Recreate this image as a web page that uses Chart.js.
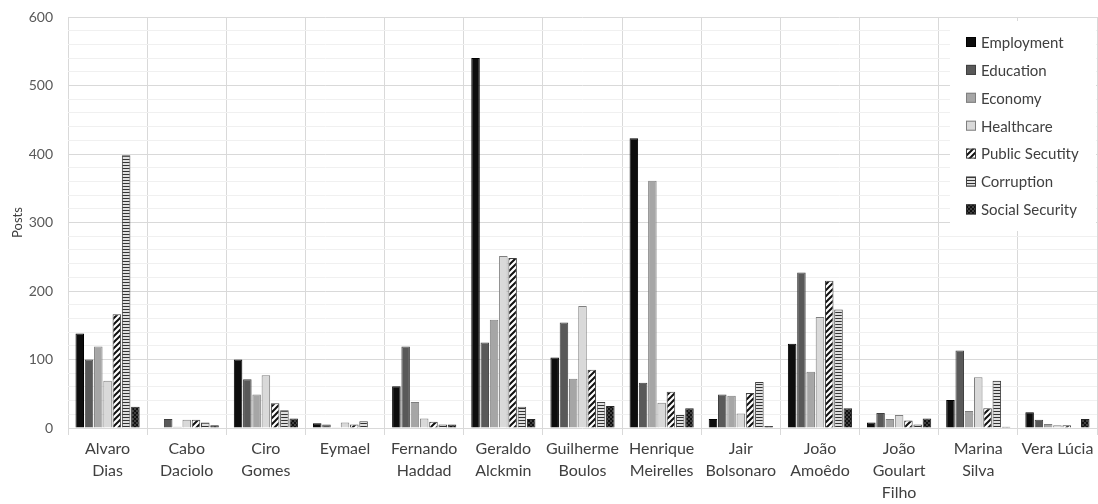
<!DOCTYPE html>
<html>
<head>
<meta charset="utf-8">
<script src="https://cdn.jsdelivr.net/npm/chart.js@4/dist/chart.umd.min.js"></script>
<style>
  html, body { margin: 0; padding: 0; background: #fff; }
  #wrap { width: 1098px; height: 504px; }
</style>
</head>
<body>
<div id="wrap"><canvas id="chart" width="1098" height="504"></canvas></div>
<script>
// Data
const candidates = [
  ['Alvaro', 'Dias'], ['Cabo', 'Daciolo'], ['Ciro', 'Gomes'], 'Eymael',
  ['Fernando', 'Haddad'], ['Geraldo', 'Alckmin'], ['Guilherme', 'Boulos'],
  ['Henrique', 'Meirelles'], ['Jair', 'Bolsonaro'], ['João', 'Amoêdo'],
  ['João', 'Goulart', 'Filho'], ['Marina', 'Silva'], 'Vera Lúcia'
];
const topics = ['Employment', 'Education', 'Economy', 'Healthcare', 'Public Secutity', 'Corruption', 'Social Security'];

const employment     = [138, 0, 100, 7, 61, 540, 103, 423, 13, 123, 8, 41, 23];
const education      = [100, 13, 71, 5, 119, 125, 154, 66, 49, 227, 22, 113, 12];
const economy        = [119, 2, 49, 1, 38, 158, 72, 361, 47, 82, 13, 25, 6];
const healthcare     = [69, 12, 77, 8, 14, 251, 178, 37, 21, 162, 19, 74, 4];
const publicSecurity = [166, 12, 36, 5, 9, 248, 85, 53, 51, 215, 11, 29, 4];
const corruption     = [398, 8, 26, 10, 5, 31, 38, 19, 67, 173, 5, 69, 0];
const socialSecurity = [31, 4, 14, 0, 5, 13, 32, 29, 3, 29, 14, 2, 13];

const yTicks = [0, 100, 200, 300, 400, 500, 600];

// Patterns
function makePattern(size, draw) {
  const c = document.createElement('canvas');
  c.width = size; c.height = size;
  const g = c.getContext('2d');
  draw(g, size);
  return g.createPattern(c, 'repeat');
}
const ctx = document.getElementById('chart').getContext('2d');

const diagPattern = makePattern(6, (g, s) => {
  g.fillStyle = '#fff'; g.fillRect(0, 0, s, s);
  g.strokeStyle = '#111'; g.lineWidth = 2;
  g.beginPath();
  g.moveTo(-1, s + 1); g.lineTo(s + 1, -1);
  g.moveTo(-1, 1); g.lineTo(1, -1);
  g.moveTo(s - 1, s + 1); g.lineTo(s + 1, s - 1);
  g.stroke();
});
const horizPattern = makePattern(3, (g, s) => {
  g.fillStyle = '#e0e0e0'; g.fillRect(0, 0, s, s);
  g.fillStyle = '#333'; g.fillRect(0, 0, s, 1);
});
const checkPattern = makePattern(4, (g, s) => {
  g.fillStyle = '#404040'; g.fillRect(0, 0, s, s);
  g.fillStyle = '#111';
  g.fillRect(0, 0, 2, 2); g.fillRect(2, 2, 2, 2);
});

const fills   = ['#0d0d0d', '#595959', '#a6a6a6', '#d9d9d9', diagPattern, horizPattern, checkPattern];
const borders = ['#000000', '#404040', '#7f7f7f', '#7f7f7f', '#404040', '#404040', '#262626'];
const series  = [employment, education, economy, healthcare, publicSecurity, corruption, socialSecurity];

const FONT = 'Lato, "Open Sans", sans-serif';

// Legend drawn inside the plot area, top right
const boxLegend = {
  id: 'boxLegend',
  afterDatasetsDraw(chart) {
    const c = chart.ctx;
    const x0 = 950, y0 = 21;
    c.save();
    c.fillStyle = '#fff';
    c.fillRect(x0, y0, 146, 210);
    c.font = '15px ' + FONT;
    c.textBaseline = 'middle';
    chart.data.datasets.forEach((ds, i) => {
      const y = 42 + i * 27.9;
      c.fillStyle = ds.backgroundColor;
      c.fillRect(966, y - 5, 10, 10);
      c.strokeStyle = ds.borderColor;
      c.lineWidth = 1;
      c.strokeRect(966.5, y - 4.5, 9, 9);
      c.fillStyle = '#404040';
      c.fillText(ds.label, 981, y + 1);
    });
    c.restore();
  }
};

new Chart(ctx, {
  type: 'bar',
  data: {
    labels: candidates,
    datasets: topics.map((t, i) => ({
      label: t,
      data: series[i],
      backgroundColor: fills[i],
      borderColor: borders[i],
      borderWidth: 1,
      borderSkipped: 'bottom',
      barPercentage: 0.92,
      categoryPercentage: 0.82
    }))
  },
  options: {
    responsive: false,
    animation: false,
    layout: { padding: { top: 0, right: 1, left: 0, bottom: 0 } },
    plugins: {
      legend: { display: false },
      tooltip: { enabled: false }
    },
    scales: {
      x: {
        afterFit: (scale) => { scale.height = 76; },
        grid: {
          offset: true,
          color: '#d9d9d9',
          tickLength: 7,
          drawOnChartArea: true
        },
        border: { display: false },
        ticks: {
          color: '#404040',
          font: { family: FONT, size: 16, lineHeight: 1.375 },
          maxRotation: 0,
          autoSkip: false,
          padding: 3
        }
      },
      y: {
        min: 0,
        max: 600,
        afterFit: (scale) => {
          scale.width = 68;
          scale.paddingTop = 17;
          scale.paddingBottom = 0;
        },
        border: { display: false },
        grid: {
          color: (c) => (c.tick && c.tick.value % 100 === 0) ? '#d9d9d9' : '#f0f0f0',
          tickLength: 0
        },
        ticks: {
          stepSize: 20,
          autoSkip: false,
          color: '#595959',
          padding: 15,
          font: { family: FONT, size: 14 },
          callback: (v) => yTicks.includes(v) ? v : ''
        },
        title: {
          display: true,
          text: 'Posts',
          color: '#404040',
          font: { family: FONT, size: 13 },
          padding: { top: 10, bottom: 0 }
        }
      }
    }
  },
  plugins: [boxLegend]
});
</script>
</body>
</html>
